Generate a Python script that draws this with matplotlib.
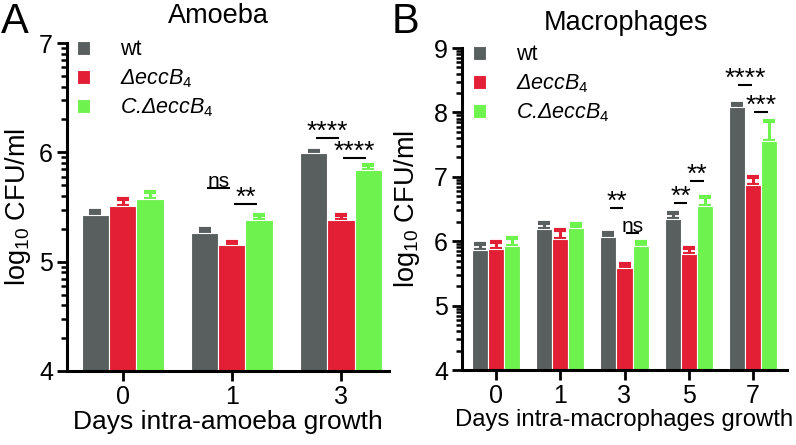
import numpy as np
import matplotlib
matplotlib.use("Agg")
import matplotlib.pyplot as plt

plt.rcParams['font.family'] = ['Liberation Sans', 'DejaVu Sans']
plt.rcParams['mathtext.fontset'] = 'custom'
plt.rcParams['mathtext.rm'] = 'Liberation Sans'
plt.rcParams['mathtext.it'] = 'Liberation Sans:italic'
plt.rcParams['mathtext.bf'] = 'Liberation Sans:bold'

# ---------------- data ----------------
strains = ['wt', r'ΔeccB$_4$', r'C.ΔeccB$_4$']
colors = ['#595f5f', '#e21f34', '#6df24e']

days_a = ['0', '1', '3']
wt_a = [5.43, 5.26, 5.99]
wt_a_err = [0.03, 0.04, 0.02]
mut_a = [5.51, 5.15, 5.38]
mut_a_err = [0.06, 0.03, 0.05]
comp_a = [5.57, 5.38, 5.84]
comp_a_err = [0.07, 0.05, 0.04]

days_b = ['0', '1', '3', '5', '7']
wt_b = [5.86, 6.19, 6.07, 6.35, 8.09]
wt_b_err = [0.09, 0.09, 0.06, 0.09, 0.04]
mut_b = [5.88, 6.04, 5.58, 5.80, 6.87]
mut_b_err = [0.10, 0.13, 0.07, 0.09, 0.13]
comp_b = [5.93, 6.21, 5.93, 6.55, 7.56]
comp_b_err = [0.12, 0.06, 0.05, 0.14, 0.30]

# significance: (group index, bar i, bar j, line height, label)
sig_a = [(1, 0, 1, 5.67, 'ns'), (1, 1, 2, 5.53, '**'),
         (2, 0, 1, 6.13, '****'), (2, 1, 2, 5.95, '****')]
sig_b = [(2, 0, 1, 6.52, '**'), (2, 1, 2, 6.12, 'ns'),
         (3, 0, 1, 6.60, '**'), (3, 1, 2, 6.94, '**'),
         (4, 0, 1, 8.43, '****'), (4, 1, 2, 8.01, '***')]

W, H = 796, 445
fig = plt.figure(figsize=(W / 100, H / 100), dpi=100)

def px_axes(l, r, t, b):
    return fig.add_axes([l / W, 1 - b / H, (r - l) / W, (b - t) / H])

ax_a = px_axes(67, 389, 43, 371)
ax_b = px_axes(462, 787, 48, 370)

bw = 0.25

def draw(ax, days, series, errs, ylim, xlim, sigs, xlabel, xlab_size,
         ylab_x, leg_anchor):
    x = np.arange(len(days))
    handles = []
    for k, (vals, e) in enumerate(zip(series, errs)):
        pos = x + (k - 1) * bw
        b = ax.bar(pos, np.array(vals) - ylim[0], bw, bottom=ylim[0],
                   color=colors[k], edgecolor='white', linewidth=0.8,
                   label=strains[k], zorder=2)
        ax.errorbar(pos, vals, yerr=[np.zeros(len(e)), e], fmt='none',
                    ecolor=colors[k], elinewidth=2.2, capsize=4,
                    capthick=3, zorder=1)
        handles.append(b)
    ax.set_ylim(*ylim)
    ax.set_xlim(*xlim)
    ax.set_xticks(x)
    ax.set_xticklabels(days)
    ax.set_yticks(np.arange(ylim[0], ylim[1] + 1))
    minors = [d + np.log10(m) for d in range(ylim[0], ylim[1]) for m in range(2, 10)]
    ax.set_yticks(minors, minor=True)
    for s in ['top', 'right']:
        ax.spines[s].set_visible(False)
    for s in ['left', 'bottom']:
        ax.spines[s].set_linewidth(2.2)
    ax.tick_params(axis='both', which='major', width=2, length=7,
                   labelsize=18, pad=3)
    ax.tick_params(axis='y', which='minor', width=1.8, length=4)
    ax.tick_params(axis='x', which='minor', length=0)
    ax.set_xlabel(xlabel, fontsize=xlab_size, labelpad=1)
    ax.set_ylabel(r'log$_{\mathregular{10}}$ CFU/ml', fontsize=19.5)
    ax.yaxis.set_label_coords(ylab_x, 0.5)
    for g, i, j, y, txt in sigs:
        x0 = g + (i - 1) * bw + 0.02
        x1 = g + (j - 1) * bw - 0.02
        ax.plot([x0, x1], [y, y], color='black', lw=1.5, zorder=3,
                solid_capstyle='butt')
        if txt == 'ns':
            ax.annotate(txt, xy=((x0 + x1) / 2, y), xytext=(0, 1.2),
                        textcoords='offset points', ha='center',
                        va='baseline', fontsize=15)
        else:
            ax.annotate(txt, xy=((x0 + x1) / 2, y), xytext=(0, -0.6),
                        textcoords='offset points', ha='center',
                        va='baseline', fontsize=19)
    leg = ax.legend(handles=handles, loc='upper left', bbox_to_anchor=leg_anchor,
                    frameon=False, fontsize=15.5, handlelength=0.6,
                    handleheight=0.6, handletextpad=1.4, labelspacing=0.32,
                    borderaxespad=0, borderpad=0.4)
    for t in leg.get_texts()[1:]:
        t.set_fontstyle('italic')
    return ax

draw(ax_a, days_a, [wt_a, mut_a, comp_a], [wt_a_err, mut_a_err, comp_a_err],
     (4, 7), (-0.51, 2.44), sig_a, 'Days intra-amoeba growth', 19, -0.106,
     (0.004, 1.037))
draw(ax_b, days_b, [wt_b, mut_b, comp_b], [wt_b_err, mut_b_err, comp_b_err],
     (4, 9), (-0.53, 4.53), sig_b, 'Days intra-macrophages growth', 17.2, -0.123,
     (0.007, 1.038))

fig.text(218 / W, 1 - 23 / H, 'Amoeba', fontsize=19.5, ha='center', va='baseline')
fig.text(626 / W, 1 - 30 / H, 'Macrophages', fontsize=19.5, ha='center', va='baseline')
fig.text(1 / W, 1 - 33 / H, 'A', fontsize=30, ha='left', va='baseline')
fig.text(392 / W, 1 - 33 / H, 'B', fontsize=30, ha='left', va='baseline')

fig.savefig('out.png', dpi=100)
